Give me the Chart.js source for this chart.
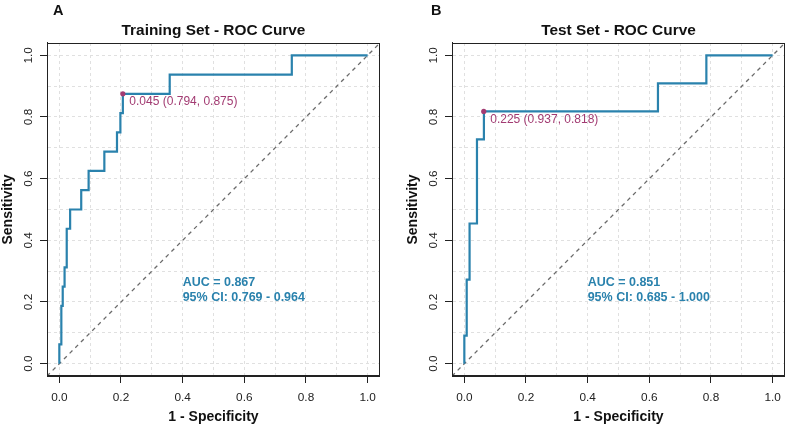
<!DOCTYPE html>
<html><head><meta charset="utf-8">
<script src="https://cdn.jsdelivr.net/npm/chart.js@4"></script>
<style>
html,body{margin:0;padding:0;background:#fff;}
#wrap{position:relative;width:789px;height:427px;overflow:hidden;background:#fff;}
canvas{position:absolute;top:0;}
.tag{position:absolute;font:bold 14.5px "Liberation Sans",Arial,sans-serif;color:#111;line-height:normal;}
</style></head><body>
<div id="wrap">
<canvas id="cA" width="384" height="427" style="left:0"></canvas>
<canvas id="cB" width="384" height="427" style="left:405px"></canvas>
<div class="tag" style="left:53px;top:2px">A</div>
<div class="tag" style="left:431px;top:2px">B</div>
</div>
<script>
// ---- data ----
const AXIS_MIN = -0.04, AXIS_MAX = 1.04;
const GRID_VALUES = [0, 0.1, 0.2, 0.3, 0.4, 0.5, 0.6, 0.7, 0.8, 0.9, 1.0];
const TICK_LABELS = ['0.0', '', '0.2', '', '0.4', '', '0.6', '', '0.8', '', '1.0'];

// Training set ROC (x = 1 - specificity, y = sensitivity), step corners
const trainFPR = [0, 0, 0.0065, 0.011, 0.017, 0.024, 0.035, 0.071, 0.095, 0.146, 0.187, 0.198, 0.206, 0.358, 0.754, 1.0];
const trainTPR = [0, 0.0625, 0.1875, 0.25, 0.3125, 0.4375, 0.5, 0.5625, 0.625, 0.6875, 0.75, 0.8125, 0.875, 0.9375, 1.0, 1.0];
const trainThrFPR = [0.206];
const trainThrTPR = [0.875];
const trainThrLabel = '0.045 (0.794, 0.875)';
const trainAUC = ['AUC = 0.867', '95% CI: 0.769 - 0.964'];

// Test set ROC
const testFPR = [0, 0, 0.0077, 0.017, 0.041, 0.0635, 0.628, 0.785, 1.0];
const testTPR = [0, 0.0909, 0.2727, 0.4545, 0.7273, 0.8182, 0.9091, 1.0, 1.0];
const testThrFPR = [0.063];
const testThrTPR = [0.818];
const testThrLabel = '0.225 (0.937, 0.818)';
const testAUC = ['AUC = 0.851', '95% CI: 0.685 - 1.000'];

const AUC_X = 0.4, AUC_Y = 0.263;

// ---- style ----
const FONT = '"Liberation Sans", Arial, sans-serif';
const CURVE_COLOR = '#2A82AD';
const THR_COLOR = '#A23B72';
const AXIS_COLOR = '#222';
const GRID_COLOR = '#E0E0E0';

const annotPlugin = {
  id: 'annot',
  afterDatasetsDraw(chart, args, opts) {
    const {ctx, scales: {x, y}} = chart;
    ctx.save();
    ctx.font = '12px ' + FONT;
    ctx.fillStyle = THR_COLOR;
    ctx.textAlign = 'left';
    ctx.textBaseline = 'middle';
    ctx.fillText(opts.thrLabel, x.getPixelForValue(opts.thrX) + 6.5, y.getPixelForValue(opts.thrY) + 8);
    ctx.font = 'bold 12.5px ' + FONT;
    ctx.fillStyle = CURVE_COLOR;
    opts.auc.forEach((t, i) => {
      ctx.fillText(t, x.getPixelForValue(AUC_X), y.getPixelForValue(AUC_Y) + i * 15);
    });
    ctx.restore();
  },
  afterDraw(chart) {
    const {ctx, chartArea: a} = chart;
    ctx.save();
    ctx.strokeStyle = AXIS_COLOR;
    ctx.lineWidth = 1;
    ctx.setLineDash([]);
    ctx.strokeRect(Math.round(a.left) + 0.5, Math.round(a.top) + 0.5, Math.round(a.right - a.left) - 1, Math.round(a.bottom - a.top) - 1);
    ctx.restore();
  }
};

function axis(isY, title) {
  return {
    type: 'linear',
    min: AXIS_MIN,
    max: AXIS_MAX,
    afterBuildTicks: (s) => { s.ticks = GRID_VALUES.map(v => ({value: v})); },
    afterFit: (s) => { if (isY) s.width = 47; else s.height = 51; },
    grid: {
      color: GRID_COLOR,
      lineWidth: 1,
      drawTicks: true,
      tickLength: 7,
      tickWidth: 1,
      tickBorderDash: [],
      tickColor: (c) => (c.index % 2 === 0 ? AXIS_COLOR : 'rgba(0,0,0,0)')
    },
    border: {display: true, color: AXIS_COLOR, width: 1, dash: [3, 3]},
    ticks: {
      autoSkip: false,
      callback: (v, i) => TICK_LABELS[i],
      color: '#222',
      font: {family: FONT, size: 11.8},
      padding: isY ? 3 : 8,
      minRotation: isY ? 90 : 0,
      maxRotation: isY ? 90 : 0,
      crossAlign: isY ? 'center' : 'near'
    },
    title: {
      display: true,
      text: title,
      color: '#111',
      font: {family: FONT, size: 14, weight: 'bold', lineHeight: 1.2},
      padding: isY ? {top: 0, bottom: 0} : {top: 0, bottom: 1}
    }
  };
}

function makeChart(id, title, fpr, tpr, thrF, thrT, thrLabel, auc) {
  new Chart(document.getElementById(id), {
    type: 'line',
    data: {
      datasets: [
        {
          data: [{x: AXIS_MIN, y: AXIS_MIN}, {x: AXIS_MAX, y: AXIS_MAX}],
          borderColor: '#6A6A6A', borderWidth: 1.3, borderDash: [4, 4],
          pointRadius: 0, fill: false, order: 3
        },
        {
          data: fpr.map((f, i) => ({x: f, y: tpr[i]})),
          borderColor: CURVE_COLOR, borderWidth: 2.2, stepped: 'before',
          pointRadius: 0, fill: false, order: 2
        },
        {
          data: thrF.map((f, i) => ({x: f, y: thrT[i]})),
          showLine: false, pointRadius: 2.6, pointBackgroundColor: THR_COLOR,
          backgroundColor: THR_COLOR,
          pointBorderWidth: 0, borderColor: THR_COLOR, order: 1
        }
      ]
    },
    options: {
      responsive: false,
      animation: false,
      devicePixelRatio: 1,
      layout: {padding: {left: 0, right: 3, top: 0, bottom: 0}},
      plugins: {
        legend: {display: false},
        tooltip: {enabled: false},
        title: {
          display: true,
          text: title,
          fullSize: false,
          color: '#111',
          font: {family: FONT, size: 15.4, weight: 'bold', lineHeight: 1.2},
          padding: {top: 21.8, bottom: 2.7}
        },
        annot: {thrLabel: thrLabel, thrX: thrF[0], thrY: thrT[0], auc: auc}
      },
      scales: {
        x: axis(false, '1 - Specificity'),
        y: axis(true, 'Sensitivity')
      }
    },
    plugins: [annotPlugin]
  });
}

makeChart('cA', 'Training Set - ROC Curve', trainFPR, trainTPR, trainThrFPR, trainThrTPR, trainThrLabel, trainAUC);
makeChart('cB', 'Test Set - ROC Curve', testFPR, testTPR, testThrFPR, testThrTPR, testThrLabel, testAUC);
</script>
</body></html>
